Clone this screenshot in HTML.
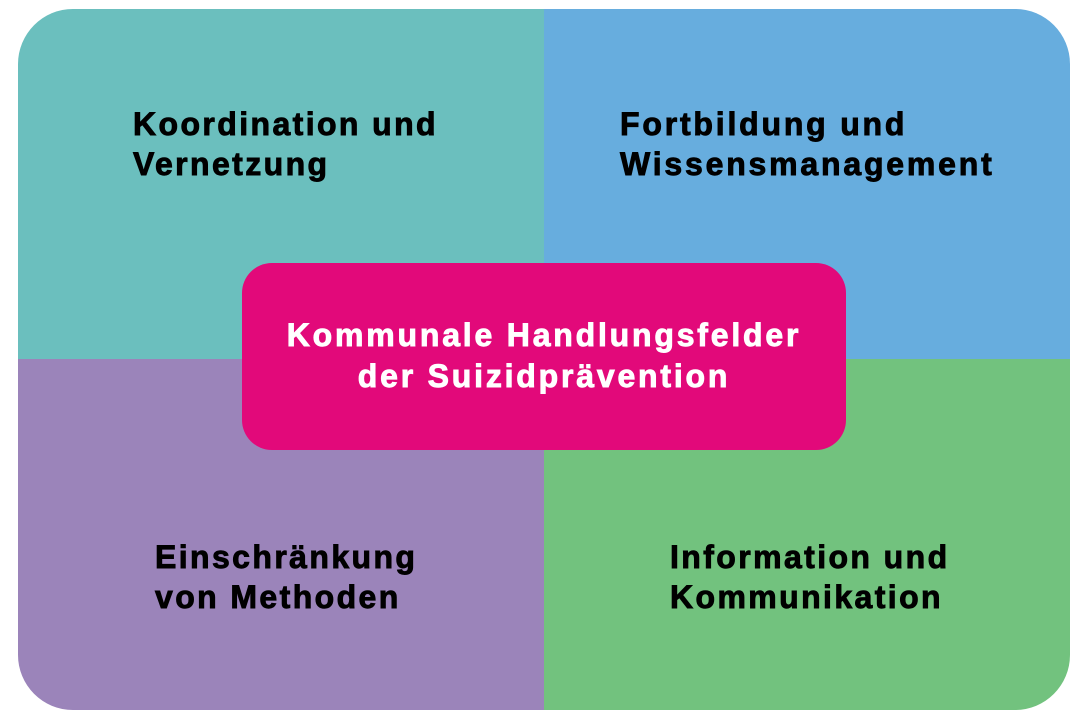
<!DOCTYPE html>
<html><head><meta charset="utf-8"><style>
body{margin:0;width:1084px;height:720px;background:#fff;position:relative;overflow:hidden;font-family:"Liberation Sans",Arial,sans-serif;font-weight:bold}
.q{position:absolute}
.t{position:absolute;font-size:32px;letter-spacing:2.4px;line-height:40px;color:#000;white-space:nowrap;-webkit-text-stroke:0.9px #000}
</style></head><body>
<div class="q" style="left:18px;top:9px;width:526px;height:350px;background:#6BBFBE;border-top-left-radius:55px"></div>
<div class="q" style="left:544px;top:9px;width:526px;height:350px;background:#67ADDE;border-top-right-radius:55px"></div>
<div class="q" style="left:18px;top:359px;width:526px;height:351px;background:#9B84BA;border-bottom-left-radius:55px"></div>
<div class="q" style="left:544px;top:359px;width:526px;height:351px;background:#72C27E;border-bottom-right-radius:55px"></div>
<div class="q" style="left:242px;top:263px;width:604px;height:187px;background:#E2097A;border-radius:30px"></div>
<div class="t" style="left:133px;top:104px">Koordination und<br>Vernetzung</div>
<div class="t" style="left:620px;top:104px;letter-spacing:2.8px">Fortbildung und<br>Wissensmanagement</div>
<div class="t" style="left:155px;top:537px">Einschränkung<br>von Methoden</div>
<div class="t" style="left:670px;top:537px">Information und<br>Kommunikation</div>
<div class="t" style="left:242px;width:604px;text-align:center;top:315px;color:#fff;-webkit-text-stroke:0.9px #fff;letter-spacing:2.8px;font-size:32px;line-height:41px">Kommunale Handlungsfelder<br>der Suizidprävention</div>
</body></html>
